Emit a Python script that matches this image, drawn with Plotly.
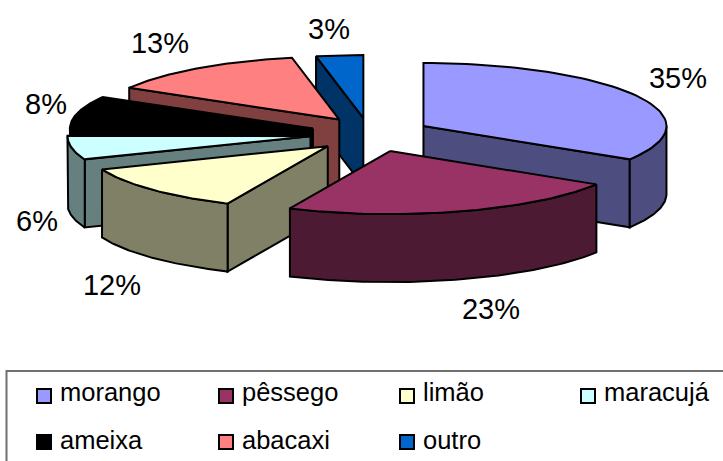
import math
import plotly.graph_objects as go

# ---- data ----
categories = ["morango", "pêssego", "limão", "maracujá", "ameixa", "abacaxi", "outro"]
values = [35, 23, 12, 6, 8, 13, 3]
top_colors = ["#9999FF", "#993366", "#FFFFCC", "#CCFFFF", "#000000", "#FF8080", "#0066CC"]
side_colors = ["#4D4D80", "#4D1A33", "#808066", "#668080", "#000000", "#804040", "#003366"]

# ---- projection of the exploded 3-D pie, in page pixels ----
W, H = 723, 461
CX, CY = 370, 134
EX, EY = 60, 17.5      # explosion
RX, RY = 243, 63       # pie radii
DEPTH = 68
FONT = "Liberation Sans, Arial, sans-serif"
LINE = 2
draw_order = [6, 0, 5, 4, 3, 2, 1]
nudge_x = [0, 7, 4, 0, 0, 3, -1]
nudge_y = [0, 0, 1, 0, 0, 0, 1.5]
label_xy = [(678, 81), (491, 312), (112, 288), (37, 224), (46, 107), (160, 46), (329, 31.5)]
legend_col_x = [44, 226, 407, 588]
legend_sq_y = [396, 442]
legend_txt_y = [395, 443]
LEG_FONT = 25.5
LAB_FONT = 29
LEG_GAP = 16


def warp(deg):
    """perspective correction of the pie angle"""
    return deg - 4.6 * math.sin(math.radians(deg / 2))


def arc(ax, ay, a0, a1, dy=0.0, n=60):
    pts = []
    for i in range(n + 1):
        t = math.radians(a0 + (a1 - a0) * i / n)
        pts.append((ax + RX * math.sin(t), ay - RY * math.cos(t) + dy))
    return pts


def poly(fig, pts, color):
    xs = [p[0] for p in pts] + [pts[0][0]]
    ys = [p[1] for p in pts] + [pts[0][1]]
    fig.add_trace(go.Scatter(x=xs, y=ys, mode="lines", fill="toself", fillcolor=color,
                             line=dict(color="black", width=LINE), hoverinfo="skip",
                             showlegend=False))


total = sum(values)
bounds = []
c = 0
for v in values:
    bounds.append((c / total * 360, (c + v) / total * 360))
    c += v

fig = go.Figure()
for i in draw_order:
    a0, a1 = bounds[i]
    mid = math.radians((a0 + a1) / 2)
    ax = CX + EX * math.sin(mid) + nudge_x[i]
    ay = CY - EY * math.cos(mid) + nudge_y[i]
    w0, w1 = warp(a0), warp(a1)
    p0 = arc(ax, ay, w0, w0, n=1)[0]
    p1 = arc(ax, ay, w1, w1, n=1)[0]
    if 180 < w0 < 360:   # leading radial wall faces the viewer
        poly(fig, [(ax, ay), p0, (p0[0], p0[1] + DEPTH), (ax, ay + DEPTH)], side_colors[i])
    if 0 < w1 < 180:     # trailing radial wall faces the viewer
        poly(fig, [(ax, ay), p1, (p1[0], p1[1] + DEPTH), (ax, ay + DEPTH)], side_colors[i])
    s0, s1 = max(w0, 90), min(w1, 270)
    if s0 < s1:          # rim
        poly(fig, arc(ax, ay, s0, s1) + arc(ax, ay, s1, s0, dy=DEPTH), side_colors[i])
    poly(fig, [(ax, ay)] + arc(ax, ay, w0, w1), top_colors[i])

# percentage labels
fig.add_trace(go.Scatter(x=[p[0] for p in label_xy], y=[p[1] for p in label_xy], mode="text",
                         text=[f"{round(v / total * 100)}%" for v in values],
                         textposition="middle center",
                         textfont=dict(family=FONT, size=LAB_FONT, color="black"),
                         hoverinfo="skip", showlegend=False))

# legend
for i, name in enumerate(categories):
    lx = legend_col_x[i % 4]
    fig.add_trace(go.Scatter(x=[lx], y=[legend_sq_y[i // 4]], mode="markers",
                             marker=dict(symbol="square", size=14, color=top_colors[i],
                                         line=dict(color="black", width=2)),
                             hoverinfo="skip", showlegend=False))
    fig.add_trace(go.Scatter(x=[lx + LEG_GAP], y=[legend_txt_y[i // 4]], mode="text", text=[name],
                             textposition="middle right",
                             textfont=dict(family=FONT, size=LEG_FONT, color="black"),
                             hoverinfo="skip", showlegend=False))

fig.update_layout(
    width=W, height=H, margin=dict(l=0, r=0, t=0, b=0),
    paper_bgcolor="white", plot_bgcolor="white", showlegend=False,
    xaxis=dict(range=[0, W], visible=False, fixedrange=True),
    yaxis=dict(range=[H, 0], visible=False, fixedrange=True),
    shapes=[dict(type="rect", xref="x", yref="y", x0=6.5, y0=371, x1=735, y1=475,
                 line=dict(color="#707070", width=2), fillcolor="rgba(0,0,0,0)", layer="below")],
)
fig.write_html("out.html", config={"displayModeBar": False},
               post_script="document.body.style.margin='0';document.body.style.overflow='hidden';")
